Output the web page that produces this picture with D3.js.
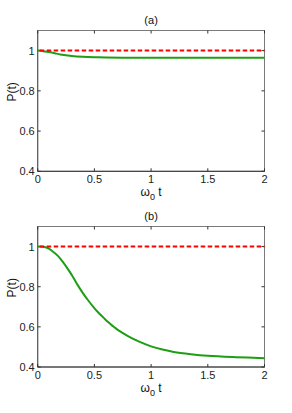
<!DOCTYPE html>
<html><head><meta charset="utf-8">
<script src="https://cdn.jsdelivr.net/npm/d3@7"></script>
<style>body{margin:0;background:#fff}svg{display:block}text{font-family:"Liberation Sans",Arial,sans-serif}</style>
</head><body><svg id="c" width="292" height="413"></svg>
<script>
const xTicks = [0, 0.5, 1, 1.5, 2];
const yTicks = [0.4, 0.6, 0.8, 1];
const xTickLabels = ["0", "0.5", "1", "1.5", "2"];
const yTickLabels = ["0.4", "0.6", "0.8", "1"];
const titles = ["(a)", "(b)"];
const tA = [0, 0.05, 0.1, 0.15, 0.2, 0.25, 0.3, 0.4, 0.5, 0.6, 0.75, 1, 1.25, 1.5, 1.75, 2];
const pA = [1, 0.997, 0.993, 0.987, 0.981, 0.977, 0.973, 0.969, 0.967, 0.966, 0.965, 0.965, 0.964, 0.964, 0.964, 0.964];
const tB = [0, 0.04, 0.088, 0.13, 0.176, 0.22, 0.265, 0.31, 0.353, 0.4, 0.441, 0.49, 0.53, 0.58, 0.618, 0.66, 0.706, 0.8, 0.9, 1, 1.1, 1.2, 1.35, 1.5, 1.75, 2];
const pB = [1, 0.999, 0.993, 0.977, 0.955, 0.925, 0.889, 0.850, 0.808, 0.767, 0.735, 0.700, 0.674, 0.646, 0.625, 0.605, 0.585, 0.553, 0.525, 0.503, 0.487, 0.475, 0.464, 0.456, 0.449, 0.444];
const refLevel = [1, 1];
const refT = [0, 2];

const svg = d3.select("#c");
const panels = [
  {top: 30.5, bottom: 171.3, t: tA, p: pA, title: titles[0]},
  {top: 226.5, bottom: 367, t: tB, p: pB, title: titles[1]}
];
const left = 37.7, right = 264.5;
panels.forEach(pn => {
  const x = d3.scaleLinear().domain([0, 2]).range([left, right]);
  const y = d3.scaleLinear().domain([0.4, 1.1]).range([pn.bottom, pn.top]);
  const g = svg.append("g");
  g.append("rect").attr("x", left).attr("y", pn.top).attr("width", right-left).attr("height", pn.bottom-pn.top)
    .attr("fill", "none").attr("stroke", "#7a7a7a").attr("stroke-width", 1);
  g.append("line").attr("x1", left).attr("x2", right).attr("y1", pn.bottom).attr("y2", pn.bottom).attr("stroke", "#333").attr("stroke-width", 1);
  g.append("line").attr("x1", left).attr("x2", left).attr("y1", pn.top).attr("y2", pn.bottom).attr("stroke", "#555").attr("stroke-width", 1);
  xTicks.forEach((v, i) => {
    g.append("line").attr("x1", x(v)).attr("x2", x(v)).attr("y1", pn.bottom).attr("y2", pn.bottom-3).attr("stroke", "#333");
    g.append("line").attr("x1", x(v)).attr("x2", x(v)).attr("y1", pn.top).attr("y2", pn.top+3).attr("stroke", "#333");
    g.append("text").attr("x", x(v)).attr("y", pn.bottom+12).attr("text-anchor", "middle")
      .attr("font-size", 11).attr("fill", "#222").text(xTickLabels[i]);
  });
  yTicks.forEach((v, i) => {
    g.append("line").attr("x1", left).attr("x2", left+3).attr("y1", y(v)).attr("y2", y(v)).attr("stroke", "#333");
    g.append("line").attr("x1", right).attr("x2", right-3).attr("y1", y(v)).attr("y2", y(v)).attr("stroke", "#333");
    g.append("text").attr("x", left-3).attr("y", y(v)+4).attr("text-anchor", "end")
      .attr("font-size", 11).attr("fill", "#222").text(yTickLabels[i]);
  });
  const line = d3.line().x(d => x(d[0])).y(d => y(d[1])).curve(d3.curveCatmullRom);
  g.append("path").datum(pn.t.map((t, i) => [t, pn.p[i]])).attr("d", line)
    .attr("fill", "none").attr("stroke", "#1e9e14").attr("stroke-width", 2);
  g.append("path").datum(refT.map((t, i) => [t, refLevel[i]])).attr("d", line)
    .attr("fill", "none").attr("stroke", "#ff0000").attr("stroke-width", 2).attr("stroke-dasharray", "4.5,2.5")
    .attr("stroke-dashoffset", -2);
  g.append("text").attr("x", (left+right)/2).attr("y", pn.top-7).attr("text-anchor", "middle")
    .attr("font-size", 11).attr("fill", "#111").text(pn.title);
  const ym = (pn.top+pn.bottom)/2 - 9;
  g.append("text").attr("transform", `translate(16,${ym}) rotate(-90)`).attr("text-anchor", "middle")
    .attr("font-size", 12).attr("fill", "#111").text("P(t)");
  const xl = g.append("text").attr("x", (left+right)/2).attr("y", pn.bottom+25).attr("text-anchor", "middle")
    .attr("font-size", 12).attr("fill", "#111");
  xl.append("tspan").text("ω");
  xl.append("tspan").attr("font-size", 9).attr("dy", 4).text("0");
  xl.append("tspan").attr("dy", -4).text(" t");
});
</script></body></html>
